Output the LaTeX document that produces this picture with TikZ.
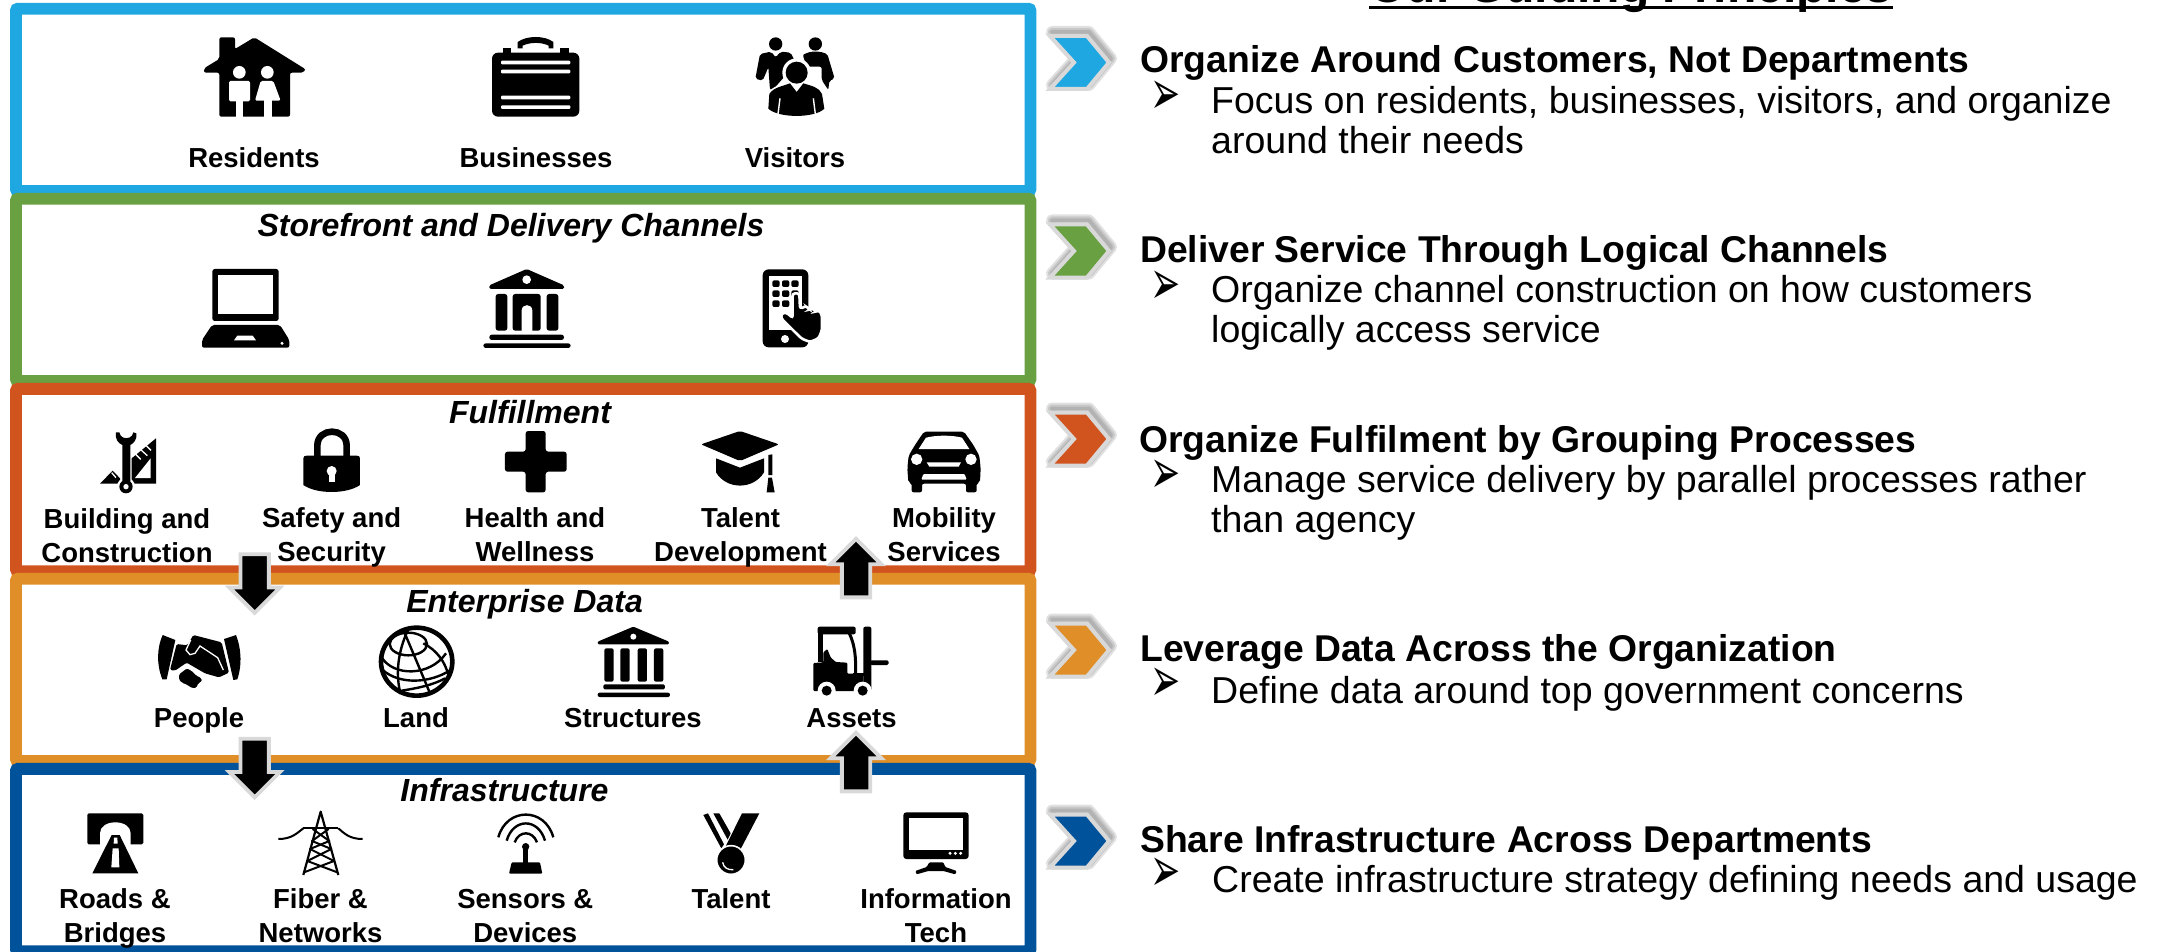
\documentclass[tikz,border=0pt]{standalone}
\usepackage{fontspec}
\setmainfont{Liberation Sans}
\newfontfamily\dejavu{DejaVu Sans}
\usetikzlibrary{shapes.arrows}
\definecolor{cBlue}{HTML}{1FA7E1}
\definecolor{cGreen}{HTML}{69A042}
\definecolor{cRed}{HTML}{D1541F}
\definecolor{cOrange}{HTML}{DF8E28}
\definecolor{cNavy}{HTML}{00529B}
\definecolor{edgeGray}{HTML}{D9D9D9}
\tikzset{
  frame/.style={draw=#1,fill=white,line width=11.8pt,rounded corners=2pt,minimum width=1014.5pt,minimum height=182.3pt,inner sep=0,outer sep=0},
  lab/.style={font=\fontsize{27.5}{34}\selectfont\bfseries,align=center,anchor=base,inner sep=0},
  head/.style={font=\fontsize{32}{38}\selectfont\bfseries\itshape,anchor=base,inner sep=0},
  hd/.style={font=\fontsize{37.3}{40}\selectfont\bfseries,anchor=base west,inner sep=0},
  bd/.style={font=\fontsize{37.5}{40}\selectfont,anchor=base west,align=left,inner sep=0},
  bul/.style={font=\fontsize{30}{30}\dejavu,inner sep=0},
  blockarrow/.style={single arrow,fill=black,draw=edgeGray,line width=3.8pt,minimum height=58.5pt,single arrow head extend=11.25pt,single arrow tip angle=90,inner xsep=0pt,inner ysep=12.25pt,outer sep=0},
  crop/.style 2 args={shift={(#1,#2)},x=0.33333pt,y=-0.33333pt},
  K/.style={fill=black,draw=none},
  W/.style={fill=white,draw=none},
  KL/.style={draw=black,line width=#1,fill=none},
  WL/.style={draw=white,line width=#1,fill=none}
}
\newcommand\chev[2]{%
  \begin{scope}[shift={(0,#1)}]
    \foreach \w in {12,8,4}{
      \draw[black!70,opacity=0.17,line width=\w pt,line join=round] (1052,-30.5) -- (1089,-30.5) -- (1111,-4) -- (1089,22.5) -- (1052,22.5) -- (1076,-4) -- cycle;
    }
    \draw[fill=#2,draw=edgeGray,line width=4pt,line join=miter] (1050,-26.5) -- (1087,-26.5) -- (1109,0) -- (1087,26.5) -- (1050,26.5) -- (1074,0) -- cycle;
  \end{scope}}
\newcommand\bulletmark{\scalebox{1.2}[2.1]{➢}}
\begin{document}
\begin{tikzpicture}[x=1pt,y=-1pt]
\useasboundingbox (0,0) rectangle (2161,952);
% frames
\node[frame=cBlue] (fA) at (523.2,99.9) {};
\node[frame=cGreen] (fB) at (523.2,289.9) {};
\node[frame=cRed] (fC) at (523.2,480) {};
\node[frame=cOrange] (fD) at (523.2,669.9) {};
\node[frame=cNavy] (fE) at (523.2,860) {};
% title
\node[font=\fontsize{48}{50}\selectfont\bfseries,anchor=base,inner sep=0] (title) at (1631,2.7) {Our Guiding Principles};
\draw[line width=3pt] ([yshift=-4.8pt]title.base west) -- ([yshift=-4.8pt]title.base east);
% chevrons
\chev{62.5}{cBlue}
\chev{251}{cGreen}
\chev{439}{cRed}
\chev{650}{cOrange}
\chev{841}{cNavy}
% right text
\node[hd] (h1) at (1140,72.5) {Organize Around Customers, Not Departments};
\node[bul] (b1) at (1166,98) {\bulletmark};
\node[bd] (t1) at (1211,153.7) {Focus on residents, businesses, visitors, and organize\\around their needs};
\node[hd] (h2) at (1140,262.2) {Deliver Service Through Logical Channels};
\node[bul] (b2) at (1166,288) {\bulletmark};
\node[bd] (t2) at (1211,342.7) {Organize channel construction on how customers\\logically access service};
\node[hd] (h3) at (1139,452) {Organize Fulfilment by Grouping Processes};
\node[bul] (b3) at (1166,477) {\bulletmark};
\node[bd] (t3) at (1211,532) {Manage service delivery by parallel processes rather\\than agency};
\node[hd] (h4) at (1140,661) {Leverage Data Across the Organization};
\node[bul] (b4) at (1166,685) {\bulletmark};
\node[bd] (t4) at (1211,703) {Define data around top government concerns};
\node[hd] (h5) at (1140,852) {Share Infrastructure Across Departments};
\node[bul] (b5) at (1166,875) {\bulletmark};
\node[bd] (t5) at (1212,892.5) {Create infrastructure strategy defining needs and usage};
% labels
\node[lab] (l1) at (254,167.7) {Residents};
\node[lab] (l2) at (536,167.7) {Businesses};
\node[lab] (l3) at (795,167.7) {Visitors};
\node[head] (s2) at (511,236.7) {Storefront and Delivery Channels};
\node[head] (s3) at (530,423.7) {Fulfillment};
\node[lab] (c1) at (127,562.7) {Building and\\Construction};
\node[lab] (c2) at (331.6,561) {Safety and\\Security};
\node[lab] (c3) at (535,561) {Health and\\Wellness};
\node[lab] (c4) at (740.5,561) {Talent\\Development};
\node[lab] (c5) at (944,561) {Mobility\\Services};
\node[head] (s4) at (524.6,612) {Enterprise Data};
\node[lab] (d1) at (199,727.7) {People};
\node[lab] (d2) at (416,727.7) {Land};
\node[lab] (d3) at (633,727.7) {Structures};
\node[lab] (d4) at (851.5,727.7) {Assets};
\node[head] (s5) at (504.5,801.5) {Infrastructure};
\node[lab] (e1) at (115,942.7) {Roads \&\\Bridges};
\node[lab] (e2) at (320.5,942.7) {Fiber \&\\Networks};
\node[lab] (e3) at (525.3,942.7) {Sensors \&\\Devices};
\node[lab] (e4) at (731,908.7) {Talent};
\node[lab] (e5) at (936,942.7) {Information\\Tech};
% block arrows
\node[blockarrow,rotate=-90] (ad1) at (254.7,576.5) {};
\node[blockarrow,rotate=-90] (ad2) at (254.7,761) {};
\node[blockarrow,rotate=90] (au1) at (856,575.2) {};
\node[blockarrow,rotate=90] (au2) at (856,769.2) {};

% ---- house and briefcase
\begin{scope}[crop={190}{30}]
\fill[K,rounded corners=2pt] (88,22) -- (135,22) -- (135,57) -- (193,22) -- (347,118) -- (340,128) -- (300,128) -- (300,260) -- (88,260) -- (88,128) -- (42,128) -- (42,115) -- (88,87) -- cycle;
\fill[W] (148,127) circle (19);
\fill[W] (232,127) circle (19);
\fill[W,rounded corners=1.5pt] (117,153) rectangle (180,214);
\fill[W] (137,210) rectangle (160,262);
\fill[W,rounded corners=1.5pt] (212,153) -- (250,153) -- (272,212) -- (195,212) -- cycle;
\fill[W] (222,208) rectangle (245,262);
\fill[K,rounded corners=6pt] (906,68) rectangle (1168,260);
\fill[K] (938,54) rectangle (962,72);
\fill[K] (1110,54) rectangle (1136,72);
\fill[K] (983,55) -- (983,36) .. controls (1010,16) and (1065,16) .. (1090,36) -- (1090,55) -- (1076,55) -- (1076,47) .. controls (1055,36) and (1020,36) .. (998,47) -- (998,55) -- cycle;
\foreach \yy in {92,119,197,226}{\fill[W,rounded corners=1pt] (933,\yy) rectangle (1141,\yy+11);}
\end{scope}
% ---- visitors and phone
\begin{scope}[crop={740}{30}]
\fill[K] (107,42) circle (20);
\fill[K] (226,42) circle (20);
\fill[K,rounded corners=2pt] (60,72) -- (93,65) -- (107,82) -- (122,65) -- (152,68) -- (168,100) -- (100,178) -- (90,180) -- (85,112) -- (68,152) -- (46,146) -- cycle;
\fill[K,rounded corners=2pt] (188,74) -- (212,65) -- (240,65) -- (262,72) -- (284,146) -- (268,152) -- (265,180) -- (245,150) -- (245,110) -- (200,110) -- cycle;
\fill[W] (170,128) circle (43);
\path[fill=white,draw=white,line width=3.4pt] (88,192) .. controls (100,172) and (130,168) .. (150,160) -- (190,160) .. controls (215,168) and (238,172) .. (246,192) -- (253,236) .. controls (225,265) and (115,265) .. (85,236) -- cycle;
\fill[K] (88,192) .. controls (100,172) and (130,168) .. (150,160) -- (170,186) -- (190,160) .. controls (215,168) and (238,172) .. (246,192) -- (253,236) .. controls (225,265) and (115,265) .. (85,236) -- cycle;
\fill[K] (170,128) circle (33);
\draw[WL=1.4pt] (120,205) -- (114,252);
\draw[WL=1.4pt] (220,205) -- (226,252);
% phone
\fill[K,rounded corners=6pt] (68,718) rectangle (205,952);
\fill[W] (86,737) rectangle (187,900);
\fill[W] (135,927) circle (12);
\foreach \xx in {108,137,165}{\foreach \yy in {761,791}{\fill[K,rounded corners=2pt] (\xx-11,\yy-10) rectangle (\xx+11,\yy+10);}}
\foreach \xx in {108,137}{\fill[K,rounded corners=2pt] (\xx-11,811) rectangle (\xx+11,831);}
\path[fill=black,draw=white,line width=2.6pt,rounded corners=2.5pt] (158,790) -- (178,790) -- (180,836) -- (200,828) -- (208,840) -- (217,834) -- (227,846) -- (236,840) -- (246,855) -- (246,900) -- (236,925) -- (210,936) -- (185,926) -- (124,866) -- (124,850) -- (140,848) -- (158,864) -- cycle;
\end{scope}
% ---- laptop and bank
\begin{scope}[crop={190}{260}]
\fill[K,rounded corners=2.5pt] (67,27) rectangle (266,183);
\fill[W] (83,46) rectangle (250,163);
\fill[K,rounded corners=2pt] (66,195) -- (270,195) -- (298,240) -- (298,263) -- (36,263) -- (36,240) -- cycle;
\fill[W] (142,227) -- (188,227) -- (198,241) -- (132,241) -- cycle;
\fill[W] (276,250) circle (5);
\fill[K,rounded corners=1.5pt] (1010,27) -- (1122,76) -- (1122,87) -- (898,87) -- (898,76) -- cycle;
\fill[W] (1010,59) circle (13);
\fill[K,rounded corners=2.5pt] (917,102) rectangle (952,212);
\fill[K,rounded corners=2.5pt] (968,102) rectangle (1052,212);
\fill[K,rounded corners=2.5pt] (1070,102) rectangle (1105,212);
\fill[W] (995,214) -- (995,152) .. controls (995,130) and (1027,130) .. (1027,152) -- (1027,214) -- cycle;
\fill[K,rounded corners=2.5pt] (898,224) rectangle (1122,240);
\fill[K,rounded corners=2.5pt] (880,250) rectangle (1142,264);
\end{scope}
% ---- tool, lock, cross
\begin{scope}[crop={90}{425}]
\fill[K] (198,40) -- (198,176) -- (125,176) -- (125,100) -- cycle;
\fill[W] (182,100) -- (182,159) -- (135,159) -- cycle;
\draw[WL=1.3pt] (134,85) -- (152,103);
\draw[WL=1.3pt] (150,72) -- (172,92);
\draw[WL=1.3pt] (165,58) -- (183,76);
\fill[K] (30,176) -- (68,137) -- (90,160) -- (92,176) -- cycle;
\draw[WL=1.3pt] (65,143) -- (78,158);
\draw[WL=5pt] (109,60) -- (109,170);
\fill[W] (108,185) circle (27);
\fill[K] (78,22) -- (88,22) -- (92,32) .. controls (100,42) and (118,42) .. (126,32) -- (130,22) -- (139,25) .. controls (142,45) and (130,55) .. (121,60) -- (121,170) -- (97,170) -- (97,60) .. controls (85,55) and (74,42) .. (78,22) -- cycle;
\fill[K] (108,185) circle (20);
\fill[W] (108,185) circle (8);
% lock
\fill[K] (640,100) .. controls (640,94) and (644,92) .. (650,92) -- (800,92) .. controls (806,92) and (810,94) .. (810,100) -- (810,180) .. controls (770,208) and (680,208) .. (640,180) -- cycle;
\draw[KL=6.6pt] (682,95) -- (682,62) .. controls (682,6) and (770,6) .. (770,62) -- (770,95);
\fill[W] (725,138) circle (15);
\fill[W] (716,140) rectangle (734,170);
% cross
\fill[K,rounded corners=2.5pt] (1307,18) -- (1367,18) -- (1367,80) -- (1430,80) -- (1430,140) -- (1367,140) -- (1367,202) -- (1307,202) -- (1307,140) -- (1245,140) -- (1245,80) -- (1307,80) -- cycle;
\end{scope}
% ---- cap, car, forklift
\begin{scope}[crop={690}{425}]
\fill[K,rounded corners=2pt] (150,18) -- (267,58) -- (150,108) -- (33,58) -- cycle;
\fill[K] (78,100) -- (150,128) -- (222,100) -- (222,142) .. controls (190,195) and (110,195) .. (78,142) -- cycle;
\fill[K] (235,90) -- (247,88) -- (247,150) -- (235,150) -- cycle;
\fill[K] (235,158) -- (246,158) -- (254,202) -- (230,202) -- cycle;
% car
\fill[K,rounded corners=2pt] (702,20) -- (822,20) -- (850,60) -- (868,92) -- (872,130) -- (870,172) -- (860,174) -- (860,202) -- (828,202) -- (828,176) -- (696,176) -- (696,202) -- (665,202) -- (665,174) -- (655,172) -- (652,130) -- (656,92) -- (675,60) -- cycle;
\fill[W] (686,72) -- (708,38) .. controls (740,30) and (785,30) .. (816,38) -- (838,72) -- cycle;
\fill[W] (680,103) circle (17);
\fill[W] (843,103) circle (17);
\fill[W] (710,112) -- (813,112) -- (806,125) -- (718,125) -- cycle;
\fill[W,rounded corners=1pt] (700,147) -- (824,147) -- (830,164) -- (694,164) -- cycle;
% forklift
\fill[K,rounded corners=2pt] (383,605) rectangle (497,628);
\fill[K] (383,610) rectangle (400,712);
\fill[K,rounded corners=1pt] (370,714) -- (400,712) -- (400,682) -- (412,672) -- (422,697) -- (437,711) -- (472,713) -- (472,746) -- (520,746) -- (520,798) -- (370,798) -- cycle;
\draw[KL=3pt] (478,625) .. controls (495,660) and (498,700) .. (497,746);
\fill[K] (490,744) rectangle (525,752);
\fill[K,rounded corners=2pt] (520,605) rectangle (544,798);
\fill[K,rounded corners=1.5pt] (540,706) rectangle (596,720);
\fill[W] (410,797) circle (27);
\fill[K] (410,797) circle (15);
\fill[W] (518,797) circle (27);
\fill[K] (518,797) circle (15);
\end{scope}
% ---- handshake, globe, bank
\begin{scope}[crop={150}{620}]
\fill[K] (38,45) -- (76,60) -- (50,178) -- (37,178) .. controls (18,130) and (22,80) .. (38,45) -- cycle;
\fill[K] (258,45) -- (222,57) -- (250,180) -- (262,178) .. controls (278,130) and (272,80) .. (258,45) -- cycle;
\fill[K,rounded corners=1.5pt] (80,72) -- (112,76) -- (130,45) -- (215,67) -- (237,158) -- (207,172) -- (165,160) -- (110,128) -- (75,152) -- (60,150) -- cycle;
\draw[WL=1.3pt] (122,60) -- (108,90) -- (120,104) -- (135,100) -- (150,78) -- (203,113) -- (220,150);
\draw[WL=1.2pt] (60,152) -- (72,170);
\path[fill=black,draw=white,line width=1.2pt,rounded corners=1.5pt] (85,162) -- (110,143) -- (125,150) -- (140,165) -- (155,172) -- (158,186) -- (147,190) -- (140,206) -- (125,206) -- (110,196) -- (95,190) -- (85,180) -- cycle;
% globe
\draw[KL=4.6pt] (800,125) ellipse [x radius=107,y radius=102];
\draw[KL=2.4pt] (775,72) ellipse [x radius=56,y radius=34];
\draw[KL=2.4pt] (775,28) .. controls (745,90) and (735,160) .. (752,222);
\draw[KL=2.4pt] (760,30) .. controls (790,100) and (815,160) .. (838,215);
\draw[KL=2.4pt] (820,70) .. controls (860,90) and (885,125) .. (895,165);
\draw[KL=2.4pt] (695,112) .. controls (730,170) and (840,170) .. (888,100);
\draw[KL=2.4pt] (698,150) .. controls (750,195) and (840,190) .. (902,150);
\draw[KL=2.4pt] (755,212) .. controls (800,205) and (850,195) .. (885,175);
% bank
\fill[K,rounded corners=1.2pt] (1450,20) -- (1557,65) -- (1557,73) -- (1343,73) -- (1343,65) -- cycle;
\fill[W] (1450,50) circle (9);
\foreach \xx in {1363,1411,1463,1512}{\fill[K,rounded corners=2pt] (\xx,85) rectangle (\xx+28,185);}
\fill[K,rounded corners=1.5pt] (1360,193) rectangle (1545,208);
\fill[K,rounded corners=2pt] (1343,218) rectangle (1560,231);
\end{scope}
% ---- tunnel, tower, sensor
\begin{scope}[crop={60}{805}]
\fill[K,rounded corners=1.5pt] (82,25) rectangle (250,118);
\fill[W] (120,120) -- (120,85) .. controls (120,65) and (140,52) .. (166,52) .. controls (192,52) and (212,65) .. (212,85) -- (212,120) -- cycle;
\fill[K] (155,90) -- (179,90) -- (235,205) -- (97,205) -- cycle;
\fill[W] (162,98) -- (172,98) -- (173,116) -- (161,116) -- cycle;
\fill[W] (158,130) -- (176,130) -- (178,187) -- (154,187) -- cycle;
% tower
\draw[KL=2.2pt,line join=round] (730,210) -- (782,20) -- (835,210);
\draw[KL=2.2pt] (730,70) -- (835,70);
\draw[KL=2pt] (655,102) .. controls (695,102) and (710,85) .. (730,70);
\draw[KL=2pt] (908,102) .. controls (868,102) and (853,85) .. (835,70);
\draw[KL=2pt,line join=round] (758,72) -- (808,108) -- (750,132) -- (822,168) -- (732,202);
\draw[KL=2pt,line join=round] (806,72) -- (756,108) -- (814,132) -- (742,168) -- (832,202);
% sensor
\draw[KL=2.4pt] (1315,97) .. controls (1340,6) and (1455,6) .. (1480,97);
\draw[KL=2.4pt] (1340,107) .. controls (1360,38) and (1435,38) .. (1455,107);
\draw[KL=2.4pt] (1364,112) .. controls (1377,76) and (1418,76) .. (1431,112);
\fill[K] (1397,125) circle (11);
\fill[K] (1390,125) rectangle (1404,175);
\fill[K,rounded corners=1pt] (1355,172) -- (1440,172) -- (1447,206) -- (1347,206) -- cycle;
\end{scope}
% ---- medal, screen
\begin{scope}[crop={680}{805}]
\fill[K] (186,25) -- (238,25) -- (182,132) -- (135,128) -- cycle;
\fill[K] (70,30) -- (84,25) -- (132,118) -- (124,130) -- cycle;
\fill[K] (100,25) -- (118,25) -- (152,85) -- (143,104) -- cycle;
\path[fill=black,draw=white,line width=1.6pt] (153,165) circle (43);
\draw[WL=1.3pt] (128,172) .. controls (130,188) and (145,196) .. (160,194);
% screen
\fill[K,rounded corners=3pt] (670,22) rectangle (866,162);
\fill[W] (688,40) rectangle (850,135);
\foreach \xx in {810,826,842}{\fill[W] (\xx,145) circle (5);}
\fill[K,rounded corners=1pt] (748,172) -- (790,172) -- (796,186) -- (830,198) -- (826,208) -- (790,198) -- (745,198) -- (710,208) -- (706,198) -- (740,186) -- cycle;
\end{scope}
\end{tikzpicture}
\end{document}
